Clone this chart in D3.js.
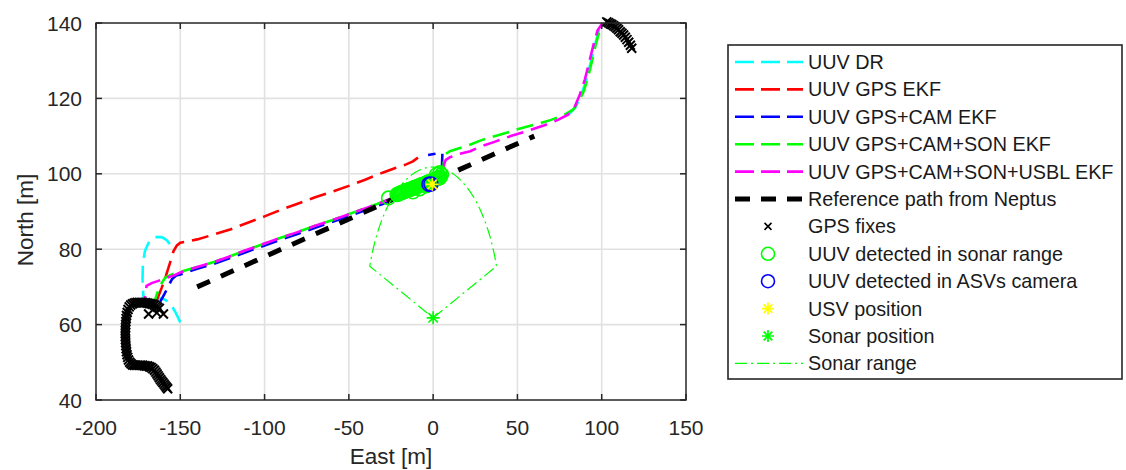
<!DOCTYPE html>
<html>
<head>
<meta charset="utf-8">
<script src="https://cdn.jsdelivr.net/npm/d3@7"></script>
<style>
  body { margin: 0; background: #fff; }
  svg { font-family: 'Liberation Sans', Arial, sans-serif; }
</style>
</head>
<body>
<svg id="chart" width="1126" height="470"></svg>
<script>
const xTicks = [-200, -150, -100, -50, 0, 50, 100, 150]
const yTicks = [40, 60, 80, 100, 120, 140]

const legendLabels = [
  'UUV DR',
  'UUV GPS EKF',
  'UUV GPS+CAM EKF',
  'UUV GPS+CAM+SON EKF',
  'UUV GPS+CAM+SON+USBL EKF',
  'Reference path from Neptus',
  'GPS fixes',
  'UUV detected in sonar range',
  'UUV detected in ASVs camera',
  'USV position',
  'Sonar position',
  'Sonar range'
]

// [east, north] in metres, null = gap
const uuvDR = [
  [-150, 60.6], [-151.5, 62], [-153, 63.4], [-155, 64.9], [-157.5, 66.2], [-160.5, 66.9], [-164, 67],
  null,
  [-171, 64.5], [-172, 68], [-172.4, 72], [-172.2, 76], [-171, 79.5], [-168.5, 82], [-165, 83.2],
  [-161, 83.2], [-158, 82.4], [-156.3, 81.4],
  null,
  [80, 115.6], [84.3, 117.6], [87.8, 120.8], [90.8, 124.8], [93.3, 129.2], [95.8, 133.8], [98.3, 138], [101.3, 140]
]

const uuvGps = [
  [-164, 66.4], [-161, 69.8], [-158.5, 73], [-156, 76.5], [-154, 79.5], [-152, 81], [-150, 81.7],
  [-140, 82.6], [-130, 83.9], [-120, 85.3], [-110, 87], [-100, 88.7], [-90, 90.5], [-80, 92.1],
  [-70, 93.8], [-60, 95.2], [-50, 96.8], [-40, 98.5], [-30, 100.3], [-22, 101.6], [-16, 102.5],
  [-12, 103.3], [-9, 104.3]
]

const uuvGpsCam = [
  [-162, 66], [-159.5, 68], [-157.5, 69.8], [-155, 72], [-152.5, 73], [-150, 73.3],
  [-140, 74.8], [-130, 76.1], [-120, 77.7], [-110, 79.4], [-100, 81], [-90, 82.6], [-80, 84.1],
  [-70, 85.7], [-60, 87.2], [-50, 88.8], [-40, 90.4], [-30, 92], [-23, 93.4], [-15, 95],
  [-8, 96.3], [-2, 97.5], [3, 98.5], [5, 99.2], [5.5, 105.6], [-3, 105]
]

const uuvGpsCamSon = [
  [-157.5, 43], [-163.5, 46.7], [-168, 48.7], [-176, 49.2], [-180.5, 50.2], [-182.3, 54],
  [-182.5, 59], [-181.5, 63.3], [-178, 65.6], [-170, 65.7], [-165, 66.5], [-162.5, 70],
  [-159, 72.4], [-155, 73.3], [-150, 74], [-140, 75.3], [-130, 76.6], [-120, 78.2], [-110, 79.9],
  [-100, 81.5], [-90, 83.1], [-80, 84.6], [-70, 86.2], [-60, 87.7], [-50, 89.3], [-40, 90.9],
  [-30, 92.5], [-23, 93.9], [-15, 95.5], [-8, 96.8], [-2, 98], [3, 99], [5, 99.5], [6, 101],
  [6.3, 103.5], [7.5, 105.3], [10, 106], [14, 106.6], [20, 107.4], [28, 108.8], [34, 109.7],
  [40, 110.4], [50, 111.8], [60, 113], [70, 114.3], [78, 115.7], [83, 117], [86, 119],
  [89, 121.5], [91.5, 125], [94, 129.5], [96.3, 134], [98.7, 138], [101.5, 140]
]

const uuvGpsCamSonUsbl = [
  [-157.5, 43], [-163.5, 46.7], [-168, 48.7], [-176, 49.2], [-180.5, 50.2], [-182.3, 54],
  [-182.5, 59], [-181.5, 63.3], [-178, 65.6], [-171.5, 65.3], [-171, 67], [-170, 70.3],
  [-167, 71], [-163, 71.6], [-158, 72.4], [-154, 73], [-150, 73.8], [-140, 75.3], [-130, 76.6],
  [-120, 78.2], [-110, 79.9], [-100, 81.5], [-90, 83.1], [-80, 84.6], [-70, 86.2], [-60, 87.7],
  [-50, 89.3], [-40, 90.9], [-30, 92.5], [-23, 93.9], [-15, 95.5], [-8, 96.8], [-2, 98],
  [3, 99], [5, 99.3], [6.3, 100.8], [6.5, 102.5], [7.5, 103.7], [10, 104.4], [15, 105.2],
  [22, 106], [28, 107.2], [36, 108.4], [46, 110], [56, 111.4], [66, 112.9], [74, 114.3],
  [80, 115.7], [84, 117.8], [87, 121], [90, 125], [92.5, 129.5], [95, 134], [97.5, 138], [100.5, 140]
]

const referencePath = [[-140, 70], [60, 110]]

const gpsFixes = [
  [-157.5, 43], [-158.2, 43.4], [-158.9, 43.8], [-159.6, 44.2], [-160.3, 44.6], [-161, 45],
  [-161.7, 45.4], [-162.4, 45.9], [-163.1, 46.4], [-163.8, 46.9], [-164.5, 47.4], [-165.3, 47.9],
  [-166.3, 48.3], [-167.3, 48.6], [-168.3, 48.8], [-169.3, 49], [-170.3, 49], [-171.3, 49.1],
  [-172.3, 49.2], [-173.3, 49.2], [-174.3, 49.2], [-175.3, 49.2], [-176.3, 49.2], [-177.3, 49.2],
  [-178.3, 49.3], [-179.2, 49.6], [-180, 50], [-180.7, 50.6], [-181.2, 51.3], [-181.6, 52],
  [-181.9, 52.8], [-182.1, 53.6], [-182.3, 54.4], [-182.4, 55.2], [-182.5, 56], [-182.6, 56.8],
  [-182.6, 57.6], [-182.6, 58.4], [-182.5, 59.2], [-182.4, 60], [-182.3, 60.8], [-182.1, 61.6],
  [-181.9, 62.4], [-181.5, 63.2], [-181, 64], [-180.3, 64.7], [-179.4, 65.2], [-178.4, 65.5],
  [-177.4, 65.7], [-176.4, 65.8], [-175.4, 65.9], [-174.4, 65.9], [-173.4, 65.9], [-172.4, 65.9],
  [-171.4, 65.8], [-170.4, 65.8], [-169.4, 65.7], [-168.4, 65.6], [-167.4, 65.5], [-166.4, 65.4],
  [-165.4, 65.2], [-164.4, 64.9], [-163.4, 64.6], [-162.4, 64.3], [-168.8, 62.8], [-163.9, 63.1],
  [-160, 62.8],
  [103, 140.3], [104, 140.1], [105, 139.8], [106, 139.6], [107, 139.3], [108, 139],
  [109, 138.6], [110, 138.2], [111, 137.7], [112, 137.3], [113, 136.8], [114, 136.2],
  [115, 135.6], [116, 134.9], [117, 134.1], [117.8, 133.3]
]

const sonarDetections = [
  [-26.5, 93.6], [-21.5, 94.5], [-21, 94.6], [-20.3, 94.7], [-19.6, 94.9], [-19, 95], [-18.3, 95.1],
  [-17.6, 95.2], [-17, 95.3], [-16.3, 95.5], [-15.6, 95.6], [-15, 95.7], [-14.3, 95.8],
  [-13.6, 95.9], [-13, 96], [-12.3, 96.1], [-11.6, 96.3], [-11, 96.4], [-10.3, 96.5],
  [-9.6, 96.6], [-9, 96.7], [-8.3, 96.8], [-7.6, 97], [-7, 97.1], [-6.3, 97.2], [-5.6, 97.3],
  [-5, 97.4], [-4.3, 97.5], [-3.6, 97.7], [-3, 97.8], [-2.3, 97.9], [-1.6, 98], [-1, 98.1],
  [-0.3, 98.2], [0.4, 98.4], [1, 98.5], [1.7, 98.6], [2.4, 98.7], [3, 98.8], [3.7, 98.9],
  [4.3, 99.1], [2, 99.8], [4, 100.3], [5, 99.8], [-12, 95.2], [-8, 96], [-4, 96.8]
]

const cameraDetections = [[-2.5, 97.2], [-1.3, 97.3]]
const usvPosition = [[-0.5, 97.2]]
const sonarPosition = [[0, 61.8]]
const sonarRange = 40
const sonarFov = [20, 160]

const svg = d3.select('#chart')
const x = d3.scaleLinear().domain([-200, 150]).range([96, 686])
const y = d3.scaleLinear().domain([40, 140]).range([400, 23])
const axisColor = '#262626'

// grid
const grid = svg.append('g')
grid.selectAll('line.gx')
  .data(xTicks.slice(1, -1))
  .enter()
  .append('line')
  .attr('x1', d => x(d)).attr('x2', d => x(d))
  .attr('y1', y(40)).attr('y2', y(140))
  .attr('stroke', '#e1e1e1').attr('stroke-width', 1.6)
grid.selectAll('line.gy')
  .data(yTicks.slice(1, -1))
  .enter()
  .append('line')
  .attr('x1', x(-200)).attr('x2', x(150))
  .attr('y1', d => y(d)).attr('y2', d => y(d))
  .attr('stroke', '#e1e1e1').attr('stroke-width', 1.6)

// lines
const line = d3.line()
  .defined(d => d !== null)
  .x(d => x(d[0]))
  .y(d => y(d[1]))

const paths = [
  { data: uuvDR, color: '#00ffff', width: 2.6, dash: '17,8', offset: 0 },
  { data: uuvGps, color: '#ff0000', width: 2.6, dash: '17,8', offset: 0 },
  { data: uuvGpsCam, color: '#0000ff', width: 2.6, dash: '17,8', offset: 4 },
  { data: uuvGpsCamSon, color: '#00ff00', width: 2.6, dash: '17,8', offset: 0 },
  { data: uuvGpsCamSonUsbl, color: '#ff00ff', width: 2.6, dash: '17,8', offset: 12 },
  { data: referencePath, color: '#000000', width: 5, dash: '14,12', offset: 0 }
]

svg.append('g')
  .selectAll('path')
  .data(paths)
  .enter()
  .append('path')
  .attr('d', d => line(d.data))
  .attr('fill', 'none')
  .attr('stroke', d => d.color)
  .attr('stroke-width', d => d.width)
  .attr('stroke-dasharray', d => d.dash)
  .attr('stroke-dashoffset', d => d.offset)

// markers
const drawX = (g, cx, cy, s, w) => {
  g.append('path')
    .attr('d', `M${cx - s},${cy - s}L${cx + s},${cy + s}M${cx - s},${cy + s}L${cx + s},${cy - s}`)
    .attr('stroke', '#000').attr('stroke-width', w).attr('fill', 'none')
}
const drawStar = (g, cx, cy, s, color) => {
  const k = s * 0.72
  g.append('path')
    .attr('d', `M${cx - s},${cy}L${cx + s},${cy}M${cx},${cy - s}L${cx},${cy + s}` +
      `M${cx - k},${cy - k}L${cx + k},${cy + k}M${cx - k},${cy + k}L${cx + k},${cy - k}`)
    .attr('stroke', color).attr('stroke-width', 1.7).attr('fill', 'none')
}

const gpsG = svg.append('g')
gpsFixes.forEach(d => drawX(gpsG, x(d[0]), y(d[1]), 4.5, 2))

svg.append('g')
  .selectAll('circle')
  .data(sonarDetections)
  .enter()
  .append('circle')
  .attr('cx', d => x(d[0]))
  .attr('cy', d => y(d[1]))
  .attr('r', 6.8)
  .attr('fill', 'none')
  .attr('stroke', '#00ff00')
  .attr('stroke-width', 1.6)

svg.append('g')
  .selectAll('circle')
  .data(cameraDetections)
  .enter()
  .append('circle')
  .attr('cx', d => x(d[0]))
  .attr('cy', d => y(d[1]))
  .attr('r', 7)
  .attr('fill', 'none')
  .attr('stroke', '#0000ff')
  .attr('stroke-width', 1.6)

const starG = svg.append('g')
usvPosition.forEach(d => drawStar(starG, x(d[0]), y(d[1]), 6.5, '#ffff00'))
sonarPosition.forEach(d => drawStar(starG, x(d[0]), y(d[1]), 6.5, '#00ff00'))

// sonar range sector
const s0 = sonarPosition[0]
const arc = d3.range(sonarFov[0], sonarFov[1] + 0.1, 2).map(a => [
  s0[0] + sonarRange * Math.cos(a * Math.PI / 180),
  s0[1] + sonarRange * Math.sin(a * Math.PI / 180)
])
svg.append('path')
  .attr('d', line([s0].concat(arc, [s0])))
  .attr('fill', 'none')
  .attr('stroke', '#00ff00')
  .attr('stroke-width', 1.2)
  .attr('stroke-dasharray', '12,4,2,4')

// axes box and ticks
svg.append('rect')
  .attr('x', x(-200)).attr('y', y(140))
  .attr('width', x(150) - x(-200)).attr('height', y(40) - y(140))
  .attr('fill', 'none').attr('stroke', axisColor).attr('stroke-width', 1.5)

const ticks = svg.append('g').attr('stroke', axisColor).attr('stroke-width', 1.5)
xTicks.forEach(t => {
  ticks.append('line').attr('x1', x(t)).attr('x2', x(t)).attr('y1', y(40)).attr('y2', y(40) - 6)
  ticks.append('line').attr('x1', x(t)).attr('x2', x(t)).attr('y1', y(140)).attr('y2', y(140) + 6)
})
yTicks.forEach(t => {
  ticks.append('line').attr('x1', x(-200)).attr('x2', x(-200) + 6).attr('y1', y(t)).attr('y2', y(t))
  ticks.append('line').attr('x1', x(150)).attr('x2', x(150) - 6).attr('y1', y(t)).attr('y2', y(t))
})

svg.append('g')
  .selectAll('text')
  .data(xTicks)
  .enter()
  .append('text')
  .attr('x', d => x(d))
  .attr('y', 435)
  .attr('text-anchor', 'middle')
  .style('font-size', '21px')
  .style('fill', axisColor)
  .text(d => d)

svg.append('g')
  .selectAll('text')
  .data(yTicks)
  .enter()
  .append('text')
  .attr('x', 82)
  .attr('y', d => y(d) + 7.5)
  .attr('text-anchor', 'end')
  .style('font-size', '21px')
  .style('fill', axisColor)
  .text(d => d)

svg.append('text')
  .attr('x', x(-25))
  .attr('y', 464)
  .attr('text-anchor', 'middle')
  .style('font-size', '22.5px')
  .style('fill', axisColor)
  .text('East [m]')

svg.append('text')
  .attr('transform', 'translate(33,220) rotate(-90)')
  .attr('text-anchor', 'middle')
  .style('font-size', '22.5px')
  .style('fill', axisColor)
  .text('North [m]')

// legend
const legend = svg.append('g')
legend.append('rect')
  .attr('x', 728).attr('y', 45)
  .attr('width', 394).attr('height', 334)
  .attr('fill', '#fff').attr('stroke', axisColor).attr('stroke-width', 1.6)

const legendY = i => 62 + i * 27.4
const legendLines = [
  { color: '#00ffff', width: 2.6, dash: '19,7' },
  { color: '#ff0000', width: 2.6, dash: '19,7' },
  { color: '#0000ff', width: 2.6, dash: '19,7' },
  { color: '#00ff00', width: 2.6, dash: '19,7' },
  { color: '#ff00ff', width: 2.6, dash: '19,7' },
  { color: '#000000', width: 5, dash: '15,11' }
]
legendLines.forEach((d, i) => {
  legend.append('line')
    .attr('x1', 735).attr('x2', 803)
    .attr('y1', legendY(i)).attr('y2', legendY(i))
    .attr('stroke', d.color).attr('stroke-width', d.width)
    .attr('stroke-dasharray', d.dash)
})
drawX(legend, 768, legendY(6), 3.5, 1.6)
legend.append('circle').attr('cx', 768).attr('cy', legendY(7)).attr('r', 6.5)
  .attr('fill', 'none').attr('stroke', '#00ff00').attr('stroke-width', 1.6)
legend.append('circle').attr('cx', 768).attr('cy', legendY(8)).attr('r', 6.5)
  .attr('fill', 'none').attr('stroke', '#0000ff').attr('stroke-width', 1.6)
drawStar(legend, 768, legendY(9), 6, '#ffff00')
drawStar(legend, 768, legendY(10), 6, '#00ff00')
legend.append('line')
  .attr('x1', 735).attr('x2', 803)
  .attr('y1', legendY(11)).attr('y2', legendY(11))
  .attr('stroke', '#00ff00').attr('stroke-width', 1.2)
  .attr('stroke-dasharray', '12,4,2,4')

legend.selectAll('text')
  .data(legendLabels)
  .enter()
  .append('text')
  .attr('x', 808)
  .attr('y', (d, i) => legendY(i) + 7)
  .style('font-size', '19.8px')
  .style('fill', '#1a1a1a')
  .text(d => d)
</script>
</body>
</html>
